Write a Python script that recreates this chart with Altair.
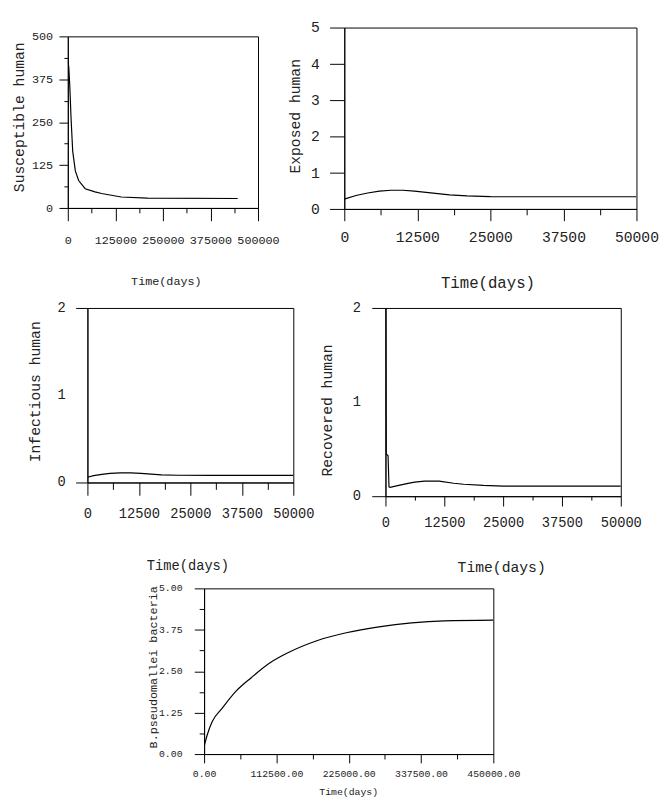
import altair as alt
import pandas as pd

FONT = "Liberation Mono"

# ---------------- data ----------------
sus_t = [0, 2600, 5200, 8600, 12900, 19800, 28400, 45700, 71500, 88800, 114600, 140500, 209500, 446500]
sus_v = [430, 410, 355, 260, 165, 108, 80, 56, 47, 42, 37, 32, 28.5, 27.5]

exp_t = [0, 2000, 4000, 6000, 8000, 10000, 12000, 14000, 16000, 18000, 21000, 25000, 30000, 50000]
exp_v = [0.27, 0.37, 0.44, 0.49, 0.515, 0.515, 0.49, 0.455, 0.42, 0.39, 0.36, 0.34, 0.335, 0.335]

inf_t = [0, 1500, 3500, 5500, 8000, 10500, 13000, 15500, 18000, 22000, 30000, 50000]
inf_v = [0.06, 0.078, 0.093, 0.104, 0.11, 0.11, 0.104, 0.096, 0.088, 0.083, 0.082, 0.082]

rec_t = [0, 150, 550, 750, 1000, 2800, 4800, 6200, 8300, 11400, 14500, 16600, 20800, 25000, 50000]
rec_v = [2.6, 0.45, 0.43, 0.10, 0.094, 0.115, 0.136, 0.15, 0.16, 0.16, 0.138, 0.127, 0.115, 0.108, 0.108]

bac_t = [0, 5100, 12700, 28000, 48300, 73700, 99200, 129700, 175400, 221200, 272000, 322900, 373700, 450000]
bac_v = [0.23, 0.59, 0.98, 1.38, 1.87, 2.31, 2.71, 3.05, 3.42, 3.66, 3.84, 3.96, 4.02, 4.04]

# tick values (major ticks carry labels, minor ticks sit half-way)
x1_major = [0, 125000, 250000, 375000, 500000]
x1_minor = [62500, 187500, 312500, 437500]
y1_major = [0, 125, 250, 375, 500]
y1_minor = [62.5, 187.5, 312.5, 437.5]

x2_major = [0, 12500, 25000, 37500, 50000]
x2_minor = [6250, 18750, 31250, 43750]
y2_major = [0, 1, 2, 3, 4, 5]
y2_minor = [0.5, 1.5, 2.5, 3.5, 4.5]

y3_major = [0, 1, 2]
y3_minor = [0.5, 1.5]

x5_major = [0, 112500, 225000, 337500, 450000]
x5_minor = [56250, 168750, 281250, 393750]
y5_major = [0, 1.25, 2.5, 3.75, 5]
y5_minor = [0.625, 1.875, 3.125, 4.375]


def make_axis(major, minor, fmt, title, tick, mtick, pad, fs, tfs, tx, ty, is_y):
    minor_list = ",".join(str(m) for m in minor)
    test = "indexof([%s], datum.value) >= 0" % minor_list
    kw = dict(
        values=sorted(major + minor), format=fmt, title=title, grid=False,
        tickSize={"condition": {"test": test, "value": mtick}, "value": tick},
        labelExpr="indexof([%s], datum.value) >= 0 ? '' : datum.label" % minor_list,
        labelPadding=pad, labelBaseline="middle", labelFlush=False,
        labelOverlap=False, labelFontSize=fs, titleFontSize=tfs,
        titleX=tx, titleY=ty, titleAlign="center", titleBaseline="middle",
        titleFontWeight="normal",
    )
    if is_y:
        kw.update(labelAlign="right", titleAngle=270, labels=False)
    return alt.Axis(**kw)


def spacer():
    return alt.Chart(pd.DataFrame({"z": [0]})).mark_rule(
        strokeOpacity=0, strokeWidth=0).encode(
        x=alt.value(0), x2=alt.value(1), y=alt.value(0.5)
    ).properties(width=1, height=1,
                 view=alt.ViewBackground(stroke="transparent", fill="transparent"))


def panel(t, v, xdom, ydom, xmaj, xmin, ymaj, ymin, W, H, L, T, R, B,
          xtitle, ytitle, xfmt, yfmt, lab_fs, xt_fs, yt_fs,
          xtick, xminor, xpad, ytick, yminor, ypad,
          xtx, xty, ytx, yty, interp="linear", sw=1.2):
    line_df = pd.DataFrame({"t": t, "v": v})
    xs = alt.Scale(domain=xdom, nice=False, zero=False)
    ys = alt.Scale(domain=ydom, nice=False, zero=False)
    xaxis = make_axis(xmaj, xmin, xfmt, xtitle, xtick, xminor, xpad,
                      lab_fs, xt_fs, xtx, xty, False)
    yaxis = make_axis(ymaj, ymin, yfmt, ytitle, ytick, yminor, ypad,
                      lab_fs, yt_fs, ytx, yty, True)
    line = alt.Chart(line_df).mark_line(
        color="black", strokeWidth=sw, clip=True, interpolate=interp
    ).encode(x=alt.X("t:Q", scale=xs, axis=xaxis),
             y=alt.Y("v:Q", scale=ys, axis=yaxis))
    # y tick labels as text placed through the y scale
    ylab = alt.Chart(pd.DataFrame({"v": ymaj})).mark_text(
        align="right", baseline="middle", font=FONT, fontSize=lab_fs, color="#222"
    ).encode(y=alt.Y("v:Q", scale=ys, axis=yaxis),
             x=alt.value(-(ytick + ypad)),
             text=alt.Text("v:Q", format=yfmt))
    # invisible frame fixing the panel's full bounds
    frame = alt.Chart(pd.DataFrame({"z": [0]})).mark_rule(
        strokeOpacity=0, color="white").encode(
        x=alt.value(-L), x2=alt.value(W + R), y=alt.value(-T), y2=alt.value(H + B))
    layered = alt.layer(line, ylab, frame).properties(width=W, height=H)
    return alt.vconcat(spacer(), layered, spacing=0)


p1 = panel(sus_t, sus_v, [0, 500000], [0, 500], x1_major, x1_minor, y1_major, y1_minor,
           W=194, H=175, L=57, T=17, R=28, B=89,
           xtitle="Time(days)", ytitle="Susceptible human", xfmt="d", yfmt="d",
           lab_fs=12, xt_fs=12, yt_fs=15,
           xtick=13, xminor=5, xpad=19, ytick=9, yminor=4, ypad=6,
           xtx=100, xty=74, ytx=-50, yty=82)

p2 = panel(exp_t, exp_v, [0, 50000], [0, 5], x2_major, x2_minor, y2_major, y2_minor,
           W=298, H=185, L=55, T=8, R=20, B=88,
           xtitle="Time(days)", ytitle="Exposed human", xfmt="d", yfmt="d",
           lab_fs=15, xt_fs=16, yt_fs=15,
           xtick=12, xminor=6, xpad=16, ytick=15, yminor=12, ypad=10,
           xtx=146, xty=75, ytx=-51, yty=90)

p3 = panel(inf_t, inf_v, [0, 50000], [0, 2], x2_major, x2_minor, y3_major, y3_minor,
           W=210, H=178, L=77, T=8, R=25, B=97,
           xtitle="Time(days)", ytitle="Infectious human", xfmt="d", yfmt="d",
           lab_fs=14, xt_fs=14, yt_fs=15,
           xtick=13, xminor=7, xpad=19, ytick=12, yminor=8, ypad=10,
           xtx=102, xty=85, ytx=-54, yty=85)

p4 = panel(rec_t, rec_v, [0, 50000], [0, 2], x2_major, x2_minor, y3_major, y3_minor,
           W=240, H=192, L=66, T=8, R=25, B=83,
           xtitle="Time(days)", ytitle="Recovered human", xfmt="d", yfmt="d",
           lab_fs=14, xt_fs=15, yt_fs=15,
           xtick=10, xminor=4, xpad=17, ytick=14, yminor=8, ypad=11,
           xtx=118, xty=72, ytx=-60, yty=104)

p5 = panel(bac_t, bac_v, [0, 450000], [0, 5], x5_major, x5_minor, y5_major, y5_minor,
           W=295, H=169, L=196, T=6, R=30, B=42,
           xtitle="Time(days)", ytitle="B.pseudomallei bacteria", xfmt=".2f", yfmt=".2f",
           lab_fs=10, xt_fs=10, yt_fs=12,
           xtick=9, xminor=5, xpad=11, ytick=10, yminor=5, ypad=12,
           xtx=147, xty=38, ytx=-53, yty=80, interp="monotone")

row1 = alt.hconcat(spacer(), p1, p2, spacing=0)
row2 = alt.hconcat(spacer(), p3, p4, spacing=0)
row3 = alt.hconcat(spacer(), p5, spacing=0)

chart = alt.vconcat(row1, row2, row3, spacing=0, padding=0).configure(
    font=FONT
).configure_view(
    stroke="black", strokeWidth=1, fill="white"
).configure_axis(
    domainColor="black", tickColor="black", domainWidth=1, tickWidth=1,
    labelColor="#222", titleColor="#222", labelFont=FONT, titleFont=FONT,
)

chart.save("out.html", embed_options={"renderer": "svg", "actions": False})
